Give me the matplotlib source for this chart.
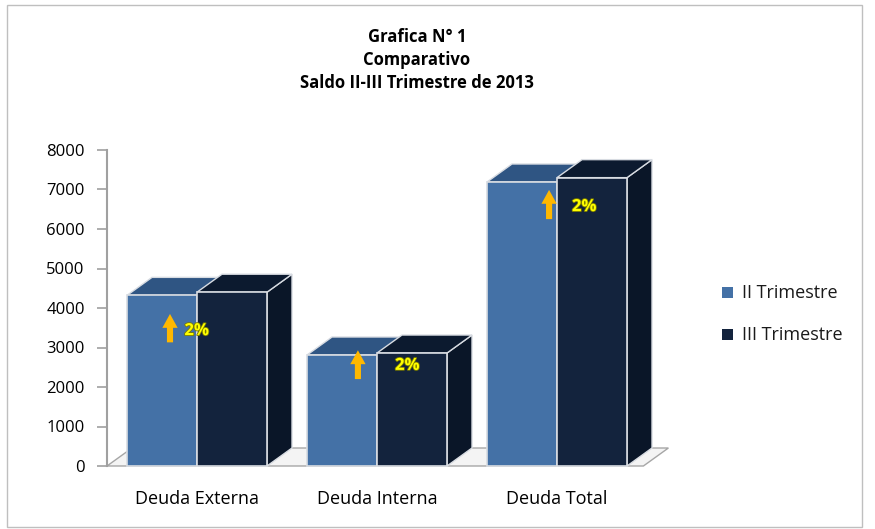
import matplotlib.pyplot as plt
from matplotlib.patches import Polygon, Rectangle
import matplotlib.patheffects as pe

plt.rcParams['font.family'] = ['Open Sans', 'DejaVu Sans']

# data
categories = ['Deuda Externa', 'Deuda Interna', 'Deuda Total']
trim_2 = [4320, 2810, 7190]
trim_3 = [4400, 2860, 7300]
series_names = ['II Trimestre', 'III Trimestre']
pct_labels = ['2%', '2%', '2%']
yticks = [0, 1000, 2000, 3000, 4000, 5000, 6000, 7000, 8000]

# colours: front, top, side
col_2 = ('#4471a6', '#2f5583', '#223f63')
col_3 = ('#13233d', '#0c1a2f', '#0a1628')
edge = '#d8dce2'

W, H = 875, 529
fig = plt.figure(figsize=(W / 100, H / 100), dpi=100)
fig.patches.append(Rectangle((7 / W, 2 / H), 855 / W, 522 / H, transform=fig.transFigure,
                             fill=False, edgecolor='#bfbfbf', lw=1))

ax = fig.add_axes([107 / W, 1 - 466 / H, 567 / W, 316 / H])
ax.set_xlim(-0.5, 2.65)
ax.set_ylim(0, 8000)

bw = 70 / 180      # bar width in data units
dx = 25 / 180      # depth offset x
dy = 18 / 316 * 8000  # depth offset y


def box(x0, h, cols, z):
    x1 = x0 + bw
    front = Polygon([(x0, 0), (x1, 0), (x1, h), (x0, h)], closed=True,
                    facecolor=cols[0], edgecolor=edge, lw=1.2, zorder=z, clip_on=False)
    top = Polygon([(x0, h), (x1, h), (x1 + dx, h + dy), (x0 + dx, h + dy)], closed=True,
                  facecolor=cols[1], edgecolor=edge, lw=1.0, zorder=z, clip_on=False)
    side = Polygon([(x1, 0), (x1 + dx, dy), (x1 + dx, h + dy), (x1, h)], closed=True,
                   facecolor=cols[2], edgecolor=edge, lw=1.0, zorder=z, clip_on=False)
    for p in (side, top, front):
        ax.add_patch(p)


# floor
ax.add_patch(Polygon([(-0.5, 0), (2.48, 0), (2.48 + dx, dy), (-0.5 + dx, dy)], closed=True,
                     facecolor='#f4f4f4', edgecolor='#a6a6a6', lw=1, zorder=1, clip_on=False))

for i in range(len(categories)):
    box(i - bw, trim_2[i], col_2, 2 + i * 2)
    box(i, trim_3[i], col_3, 3 + i * 2)

# percentage arrows
arrow_pos = [(-0.15, 3060, 3920, -0.07, 3440),
             (0.894, 2130, 3000, 1.10, 2560),
             (1.956, 6180, 7060, 2.083, 6580)]
for (ax_x, y0, y1, tx, ty), lab in zip(arrow_pos, pct_labels):
    ax.annotate('', xy=(ax_x, y1), xytext=(ax_x, y0),
                arrowprops=dict(arrowstyle='simple,head_width=0.55,head_length=0.5,tail_width=0.22',
                                mutation_scale=20, color='#ffb800', lw=0), zorder=20)
    ax.text(tx, ty, lab, color='#ffff00', fontsize=12, fontweight='bold', va='center', ha='left',
            zorder=21, path_effects=[pe.withStroke(linewidth=1.2, foreground='#7a7a00')])

# axes styling
for s in ['top', 'right', 'bottom']:
    ax.spines[s].set_visible(False)
ax.spines['left'].set_color('#a0a0a0')
ax.spines['left'].set_linewidth(1.5)
ax.set_yticks(yticks)
ax.set_yticklabels([str(v) for v in yticks])
ax.tick_params(axis='y', length=7, width=1.2, color='#a0a0a0', pad=9, labelsize=12,
               labelcolor='#000000')
ax.set_xticks(range(len(categories)))
ax.set_xticklabels(categories, fontsize=13)
ax.tick_params(axis='x', length=0, pad=17)
ax.patch.set_visible(False)

# title
for k, line in enumerate(['Grafica N° 1', 'Comparativo', 'Saldo II-III Trimestre de 2013']):
    fig.text(417 / W, 1 - (37 + 23 * k) / H, line, ha='center', va='center', fontsize=12,
             fontweight='bold')

# legend
for j, (name, c) in enumerate(zip(series_names, [col_2[0], col_3[0]])):
    yy = 1 - (293 + j * 42) / H
    fig.patches.append(Rectangle((722 / W, yy - 5 / H), 11 / W, 11 / H, transform=fig.transFigure,
                                 facecolor=c, edgecolor='none'))
    fig.text(742 / W, yy, name, ha='left', va='center', fontsize=13, color='#1a1a1a')

fig.savefig('out.png', dpi=100)
